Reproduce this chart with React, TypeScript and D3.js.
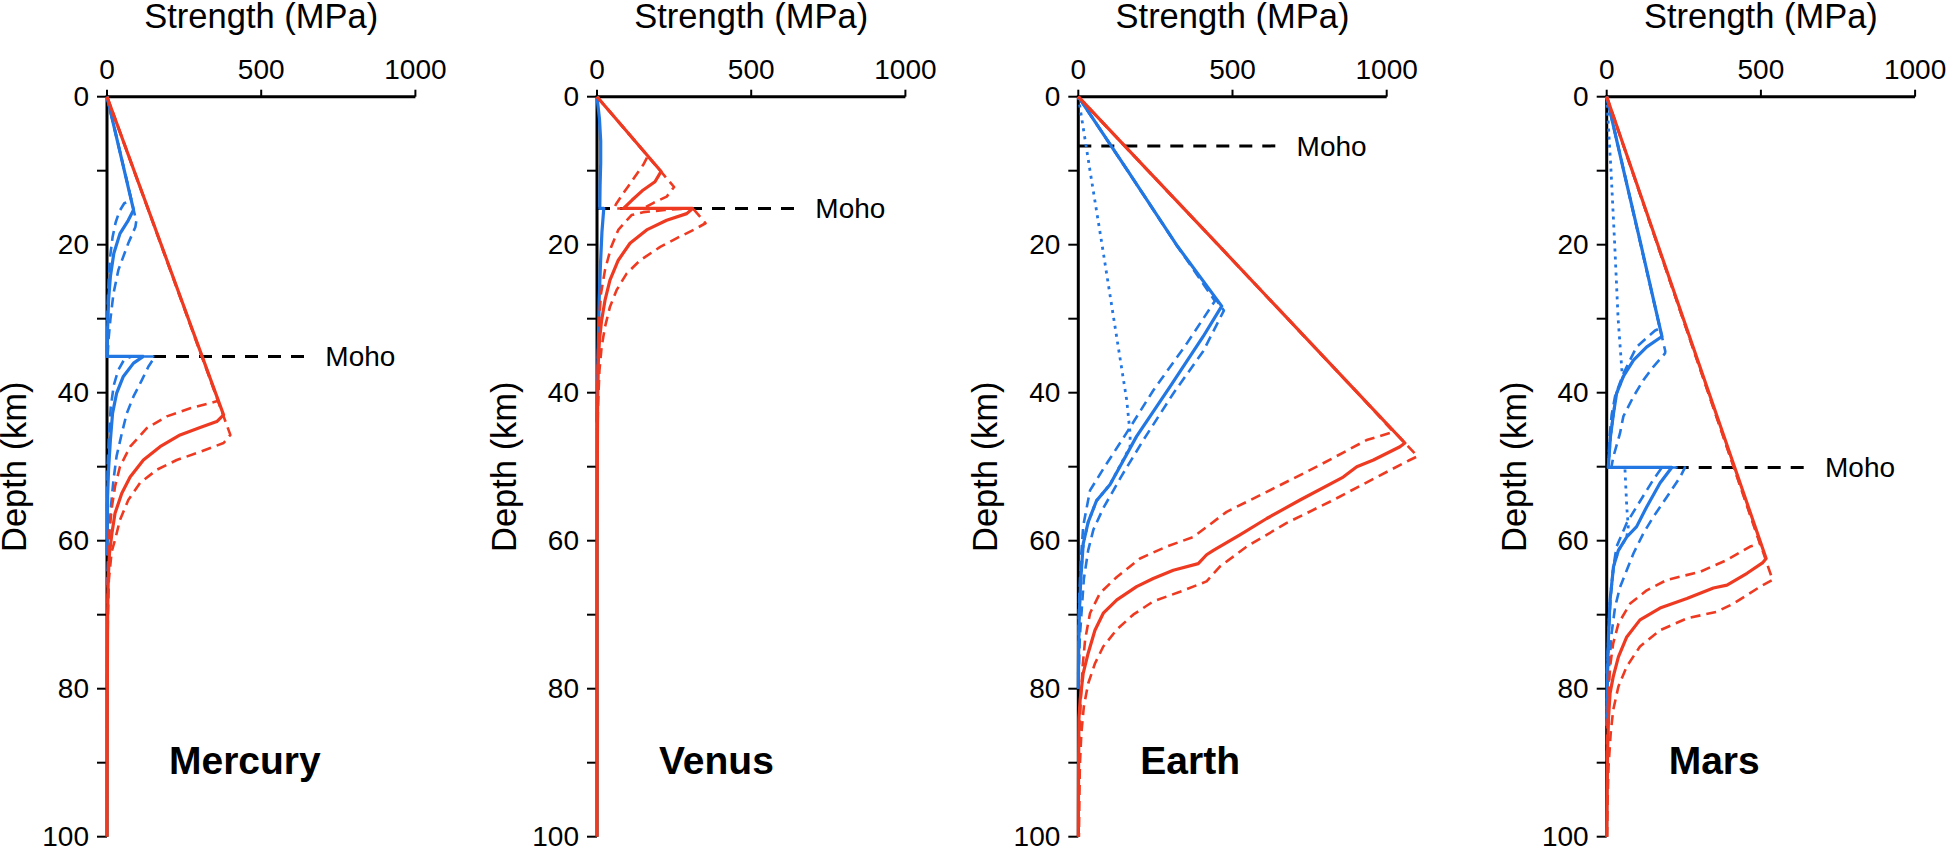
import React from 'react';
import * as d3 from 'd3';

type Pt = [number, number]; // [depth (km), strength (MPa)]

// ---------- axis ticks ----------
const depthTicks = [0, 10, 20, 30, 40, 50, 60, 70, 80, 90, 100];
const depthLabels = [0, 20, 40, 60, 80, 100];
const strengthTicks = [0, 500, 1000];

// ---------- planets ----------
const planetNames = ['Mercury', 'Venus', 'Earth', 'Mars'];
const mohoDepths = [35.1, 15.1, 6.65, 50.1];

// ---------- Mercury ----------
const mercuryRed: Pt[] = [[0,0],[43.0,378],[43.9,356],[44.7,302],[45.7,237],[47.3,172],[49.1,118],[51.4,75],[53.6,48],[56.3,26],[59,16],[61.7,8],[65,4],[70,2],[80,1],[100,0]];
const mercuryRedWeak: Pt[] = [[0,0],[41.1,361],[42.1,270],[43.2,194],[44.8,129],[47.3,75],[50,42],[52.7,26],[55.4,16],[58.6,8],[62,4],[68,2],[80,0]];
const mercuryRedStrong: Pt[] = [[0,0],[45.7,400],[46.8,378],[48,302],[49.1,226],[50.4,162],[52.2,107],[54.5,69],[57.2,42],[59.9,26],[61.5,15],[65.3,6],[70,3],[80,0]];
const mercuryBlue: Pt[] = [[0,0],[15.3,86],[16.7,69],[18.5,42],[21.2,22],[24.3,11],[27.5,5],[31.5,2],[35.1,0],[35.1,118],[36,86],[37.8,53],[40.1,31],[42.8,18],[46.4,11],[50.4,5],[54,2],[62,0]];
const mercuryBlueWeak: Pt[] = [[0,0],[14,79],[14.4,56],[15.5,40],[17,28],[19,18],[22,9],[26,4],[30,1],[35.1,0],[35.1,80],[35.5,56],[37,36],[39,22],[42,12],[46,6],[50,2],[56,0]];
const mercuryBlueStrong: Pt[] = [[0,0],[16.8,95],[17.6,92],[19.8,69],[23.4,37],[26.6,21],[30.1,11],[32.8,5],[35.1,2],[35.1,156],[36.5,134],[38.3,113],[40.5,86],[42.8,64],[45.5,48],[48.6,31],[51.8,21],[55.3,13],[58.5,8],[62,4],[66,0]];

// ---------- Venus ----------
const venusRed: Pt[] = [[0,0],[10.1,208],[11.5,188],[12.6,150],[14,113],[15.1,86],[15.1,310],[15.8,291],[16.7,226],[18,161],[19.8,107],[22.1,69],[24.8,42],[27.5,26],[30.2,15],[32.9,8],[36,4],[42,2],[50,1],[60,0],[100,0]];
const venusRedWeak: Pt[] = [[0,0],[8.0,165],[9.2,150],[11,120],[13,86],[14.5,62],[15.1,55],[15.1,300],[15.3,220],[15.6,150],[16,112],[18,69],[20.3,46],[23.4,26],[26.6,13],[30,7],[35,3],[40,1],[45,0]];
const venusRedStrong: Pt[] = [[0,0],[12.2,250],[13.5,226],[14.3,185],[15.1,150],[15.1,311],[17.1,352],[18,313],[18.9,269],[20.3,205],[22.1,140],[23.9,96],[26.1,64],[28.4,42],[31.1,26],[33.8,15],[37,8],[42,3],[50,0]];
const venusBlue: Pt[] = [[0,0],[3,8],[6,12],[9,12],[12,10],[15.1,9],[15.1,22],[18.3,16],[22.9,11],[27.5,7],[32,5],[36,3],[40,1],[44,0]];

// ---------- Earth ----------
const earthRed: Pt[] = [[0,0],[10,226],[20,453],[30,679],[40,905],[46.8,1059],[47.3,1043],[49.1,957],[50,903],[51.4,859],[54.5,719],[57,611],[59.2,524],[61.3,438],[61.9,416],[63.1,389],[64,308],[65.1,243],[66.2,189],[68,125],[69.8,81],[72.1,54],[75.2,32],[77.9,16],[81.5,6],[84,2],[90,1],[100,0]];
const earthRedWeak: Pt[] = [[0,0],[10,226],[20,453],[30,679],[40,905],[45.3,1022],[46.4,935],[50,773],[53.4,611],[56.1,481],[59.5,373],[60.8,286],[62.4,200],[64.9,125],[67.1,70],[69.8,38],[73.4,22],[77,14],[81.5,8],[86,4],[92,0]];
const earthRedStrong: Pt[] = [[0,0],[10,226],[20,453],[30,679],[40,905],[48.6,1100],[49.2,1070],[51.4,968],[54.5,827],[57.6,676],[60.8,546],[63.5,459],[65.5,416],[66.9,330],[68.2,243],[70,178],[72,125],[74.3,81],[76.6,54],[79.3,32],[82.4,18],[86,10],[90.5,5],[97,3],[100,2]];
const earthBlue: Pt[] = [[0,0],[10,160],[20,318],[28.3,465],[32.4,405],[39.2,297],[45.9,189],[52.4,103],[54.6,59],[57.5,32],[60.4,16],[65.2,8],[70,3],[75,1],[80,0]];
const earthBlueWeak: Pt[] = [[0,0],[10,160],[20,318],[27.6,443],[33.4,351],[39.7,243],[45.4,157],[50.3,81],[53.2,38],[58,16],[62.8,8],[67.6,3],[75,0]];
const earthBlueStrong: Pt[] = [[0,0],[10,160],[20,318],[28.9,472],[34.4,405],[40.1,308],[46.4,211],[51.2,141],[55.6,81],[58.5,49],[61.3,32],[65.2,18],[70,10],[73,5],[80,0]];
const earthBlueDotted: Pt[] = [[0,0],[10,38],[20,77],[30,115],[41,157],[45.5,168],[47.3,168],[52.4,103],[54.6,59],[57.5,32],[60.4,16],[65.2,8],[70,3],[78,0]];

// ---------- Mars ----------
const marsRed: Pt[] = [[0,0],[62.4,517],[63,505],[64.4,455],[66,390],[66.4,346],[67.8,260],[69.1,173],[70.7,108],[73,65],[75.7,38],[78.4,21],[80.6,11],[83.8,6],[88.3,3],[100,0]];
const marsRedWeak: Pt[] = [[0,0],[60.4,497],[60.8,465],[62.6,390],[64.2,303],[65.3,195],[66.7,130],[68.5,76],[71.2,38],[73.9,21],[77,11],[80.6,6],[83.8,3],[90,0]];
const marsRedStrong: Pt[] = [[0,0],[65.3,538],[66.2,498],[68.5,411],[69.6,357],[70.5,260],[72.1,173],[74.3,108],[77,65],[79.7,38],[82.9,21],[86,13],[90.5,6],[95,3],[100,1]];
const marsBlue: Pt[] = [[0,0],[10,55],[20,111],[32.4,179],[33.8,130],[35.6,87],[37.8,54],[40.1,32],[42.8,22],[46,12],[49,7],[50.1,5],[50.1,211],[52.2,173],[55.4,130],[58.1,97],[59.5,65],[61.3,38],[63.5,22],[68,11],[72.5,6],[79.3,2],[85,0]];
const marsBlueWeak: Pt[] = [[0,0],[31.3,173],[31.6,157],[33.8,97],[37.4,54],[40.5,27],[43,16],[46,9],[50.1,5],[50.1,179],[51.7,152],[54.6,109],[57.6,65],[60.8,32],[63.5,22],[68,12],[72.5,7],[78,0]];
const marsBlueStrong: Pt[] = [[0,0],[34.4,190],[34.7,189],[36.5,151],[38.3,119],[40.5,87],[43.2,54],[45.5,43],[48.6,22],[50.1,15],[50.1,254],[51.4,238],[54.1,195],[56.8,151],[59,119],[61.7,87],[64,65],[66.3,43],[69,27],[72.5,16],[77,8],[85,0]];
const marsBlueDotted: Pt[] = [[0,0],[10,14],[20,26],[30,37],[37.4,50],[37.8,54],[40.1,32],[42.8,22],[46,12],[49,7],[50.1,5],[50.1,59],[55.4,65],[58.1,70],[59.5,65],[61.3,38],[63.5,22],[68,11],[72.5,6],[79.3,2],[85,0]];

// ---------- layout ----------
const W = 1946;
const H = 846;
const panelLeft = [107, 597, 1078.3, 1606.7];
const panelWidth = 308.4;
const plotTop = 96.7;
const plotBottom = 836.7;
const mohoLineEnd = 669; // MPa position where the Moho dashes end

const RED = '#EF3A22';
const BLUE = '#2277E2';
const FONT = '"Liberation Sans", Arial, Helvetica, sans-serif';

type Series = { data: Pt[]; color: string; style: 'solid' | 'dashed' | 'dotted' };

const panelSeries: Series[][] = [
  [
    { data: mercuryBlueWeak, color: BLUE, style: 'dashed' },
    { data: mercuryBlueStrong, color: BLUE, style: 'dashed' },
    { data: mercuryBlue, color: BLUE, style: 'solid' },
    { data: mercuryRedWeak, color: RED, style: 'dashed' },
    { data: mercuryRedStrong, color: RED, style: 'dashed' },
    { data: mercuryRed, color: RED, style: 'solid' },
  ],
  [
    { data: venusBlue, color: BLUE, style: 'solid' },
    { data: venusRedWeak, color: RED, style: 'dashed' },
    { data: venusRedStrong, color: RED, style: 'dashed' },
    { data: venusRed, color: RED, style: 'solid' },
  ],
  [
    { data: earthBlueDotted, color: BLUE, style: 'dotted' },
    { data: earthBlueWeak, color: BLUE, style: 'dashed' },
    { data: earthBlueStrong, color: BLUE, style: 'dashed' },
    { data: earthBlue, color: BLUE, style: 'solid' },
    { data: earthRedWeak, color: RED, style: 'dashed' },
    { data: earthRedStrong, color: RED, style: 'dashed' },
    { data: earthRed, color: RED, style: 'solid' },
  ],
  [
    { data: marsBlueDotted, color: BLUE, style: 'dotted' },
    { data: marsBlueWeak, color: BLUE, style: 'dashed' },
    { data: marsBlueStrong, color: BLUE, style: 'dashed' },
    { data: marsBlue, color: BLUE, style: 'solid' },
    { data: marsRedWeak, color: RED, style: 'dashed' },
    { data: marsRedStrong, color: RED, style: 'dashed' },
    { data: marsRed, color: RED, style: 'solid' },
  ],
];

const y = d3.scaleLinear().domain([0, 100]).range([plotTop, plotBottom]);

function Panel({ idx }: { idx: number }) {
  const x0 = panelLeft[idx];
  const x = d3.scaleLinear().domain([0, 1000]).range([x0, x0 + panelWidth]);
  const line = d3
    .line<Pt>()
    .x((d) => x(d[1]))
    .y((d) => y(d[0]));
  const moho = mohoDepths[idx];
  const cx = x0 + panelWidth / 2;
  return (
    <g>
      {/* titles */}
      <text x={cx} y={28} textAnchor="middle" fontSize={34.5} fontFamily={FONT} fill="#000">
        Strength (MPa)
      </text>
      <text
        transform={`translate(${x0 - 81},${(plotTop + plotBottom) / 2}) rotate(-90)`}
        textAnchor="middle"
        fontSize={34.5}
        fontFamily={FONT}
        fill="#000"
      >
        Depth (km)
      </text>
      {/* top axis */}
      <line x1={x0} x2={x0 + panelWidth} y1={plotTop} y2={plotTop} stroke="#000" strokeWidth={3} />
      {strengthTicks.map((t) => (
        <g key={'s' + t}>
          <line x1={x(t)} x2={x(t)} y1={plotTop} y2={plotTop - 7} stroke="#000" strokeWidth={2} />
          <text x={x(t)} y={79} textAnchor="middle" fontSize={28} fontFamily={FONT} fill="#000">
            {t}
          </text>
        </g>
      ))}
      {/* left axis */}
      <line x1={x0} x2={x0} y1={plotTop - 1.5} y2={plotBottom} stroke="#000" strokeWidth={3} />
      {depthTicks.map((t) => (
        <line key={'d' + t} x1={x0 - 10} x2={x0} y1={y(t)} y2={y(t)} stroke="#000" strokeWidth={2} />
      ))}
      {depthLabels.map((t) => (
        <text key={'dl' + t} x={x0 - 18} y={y(t) + 9.5} textAnchor="end" fontSize={28} fontFamily={FONT} fill="#000">
          {t}
        </text>
      ))}
      {/* Moho */}
      <line
        x1={x0}
        x2={x(mohoLineEnd)}
        y1={y(moho)}
        y2={y(moho)}
        stroke="#000"
        strokeWidth={3}
        strokeDasharray="13 10"
      />
      <text x={x(mohoLineEnd) + 12} y={y(moho) + 10} fontSize={28} fontFamily={FONT} fill="#000">
        Moho
      </text>
      {/* curves */}
      {panelSeries[idx].map((s, i) => (
        <path
          key={i}
          d={line(s.data) || ''}
          fill="none"
          stroke={s.color}
          strokeWidth={s.style === 'solid' ? 3.2 : s.style === 'dashed' ? 2.6 : 2.8}
          strokeDasharray={s.style === 'dashed' ? '10 6' : s.style === 'dotted' ? '3 5' : undefined}
          strokeLinejoin="round"
        />
      ))}
      {/* planet name */}
      <text x={x0 + 62} y={774} fontSize={39} fontWeight="bold" fontFamily={FONT} fill="#000">
        {planetNames[idx]}
      </text>
    </g>
  );
}

export default function App() {
  return (
    <svg
      width={W}
      height={H}
      viewBox={`0 0 ${W} ${H}`}
      style={{ position: 'absolute', left: 0, top: 0, background: '#fff' }}
    >
      <rect x={0} y={0} width={W} height={H} fill="#fff" />
      {planetNames.map((_, i) => (
        <Panel key={i} idx={i} />
      ))}
    </svg>
  );
}
